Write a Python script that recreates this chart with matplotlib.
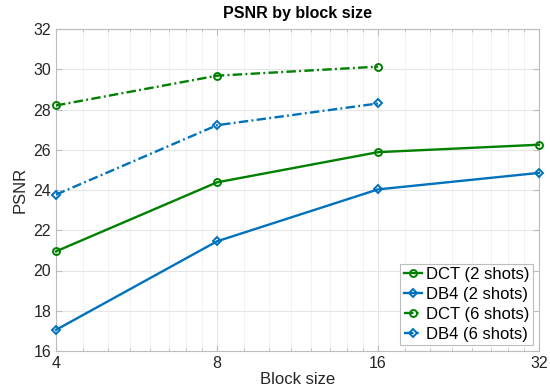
import numpy as np
import matplotlib
matplotlib.use("Agg")
import matplotlib.pyplot as plt
from matplotlib.ticker import LogLocator, FixedLocator, NullFormatter

plt.rcParams['font.family'] = ['Liberation Sans', 'DejaVu Sans']

block = [4, 8, 16, 32]
dct2 = [20.95, 24.38, 25.88, 26.25]
db42 = [17.05, 21.45, 24.03, 24.85]
block6 = [4, 8, 16]
dct6 = [28.2, 29.68, 30.13]
db46 = [23.77, 27.22, 28.3]

green = '#008000'
blue = '#0072BD'
dashdot = (0, (4, 1.4, 0.8, 1.4))

fig = plt.figure(figsize=(5.5, 3.9), dpi=100)
ax = fig.add_axes([56/550, 1-351/390, (539-56)/550, (351-29)/390])

kw = dict(lw=1.7, mfc='none', mew=1.4, clip_on=False, zorder=3)
ax.plot(block, dct2, '-', marker='o', ms=5, color=green, label='DCT (2 shots)', **kw)
ax.plot(block, db42, '-', marker='D', ms=4.5, color=blue, label='DB4 (2 shots)', **kw)
ax.plot(block6, dct6, ls=dashdot, marker='o', ms=5, color=green, label='DCT (6 shots)', **kw)
ax.plot(block6, db46, ls=dashdot, marker='D', ms=4.5, color=blue, label='DB4 (6 shots)', **kw)

ax.set_xscale('log', base=2)
ax.set_xlim(4, 32)
ax.set_ylim(16, 32)
ax.xaxis.set_major_locator(FixedLocator(block))
ax.set_xticklabels([str(b) for b in block])
ax.xaxis.set_minor_locator(LogLocator(base=2, subs=np.arange(1, 2, 0.125)))
ax.xaxis.set_minor_formatter(NullFormatter())
ax.set_yticks(np.arange(16, 33, 2))

ax.grid(True, which='major', color='#e6e6e6', lw=0.8)
ax.grid(True, which='minor', axis='x', color='#f0f0f0', lw=0.6)
ax.set_axisbelow(True)
for s in ax.spines.values():
    s.set_color('#bdbdbd')
    s.set_linewidth(0.8)
ax.tick_params(which='both', direction='in', color='#bdbdbd', top=True, right=True,
               labelsize=11.5, labelcolor='#262626')
ax.tick_params(which='major', length=4)
ax.tick_params(which='minor', length=2.5)

ax.set_xlabel('Block size', fontsize=12, color='#262626', labelpad=1)
ax.set_ylabel('PSNR', fontsize=12, color='#262626', labelpad=4)
ax.set_title('PSNR by block size', fontsize=11.5, fontweight='bold', pad=8)

leg = ax.legend(loc='lower right', fontsize=12, handlelength=1.1, handletextpad=0.25,
                borderpad=0.2, labelspacing=0.3, fancybox=False, framealpha=1,
                borderaxespad=0.35)
leg.get_frame().set_edgecolor('#bdbdbd')
leg.get_frame().set_linewidth(0.8)

fig.savefig('out.png', dpi=100)
